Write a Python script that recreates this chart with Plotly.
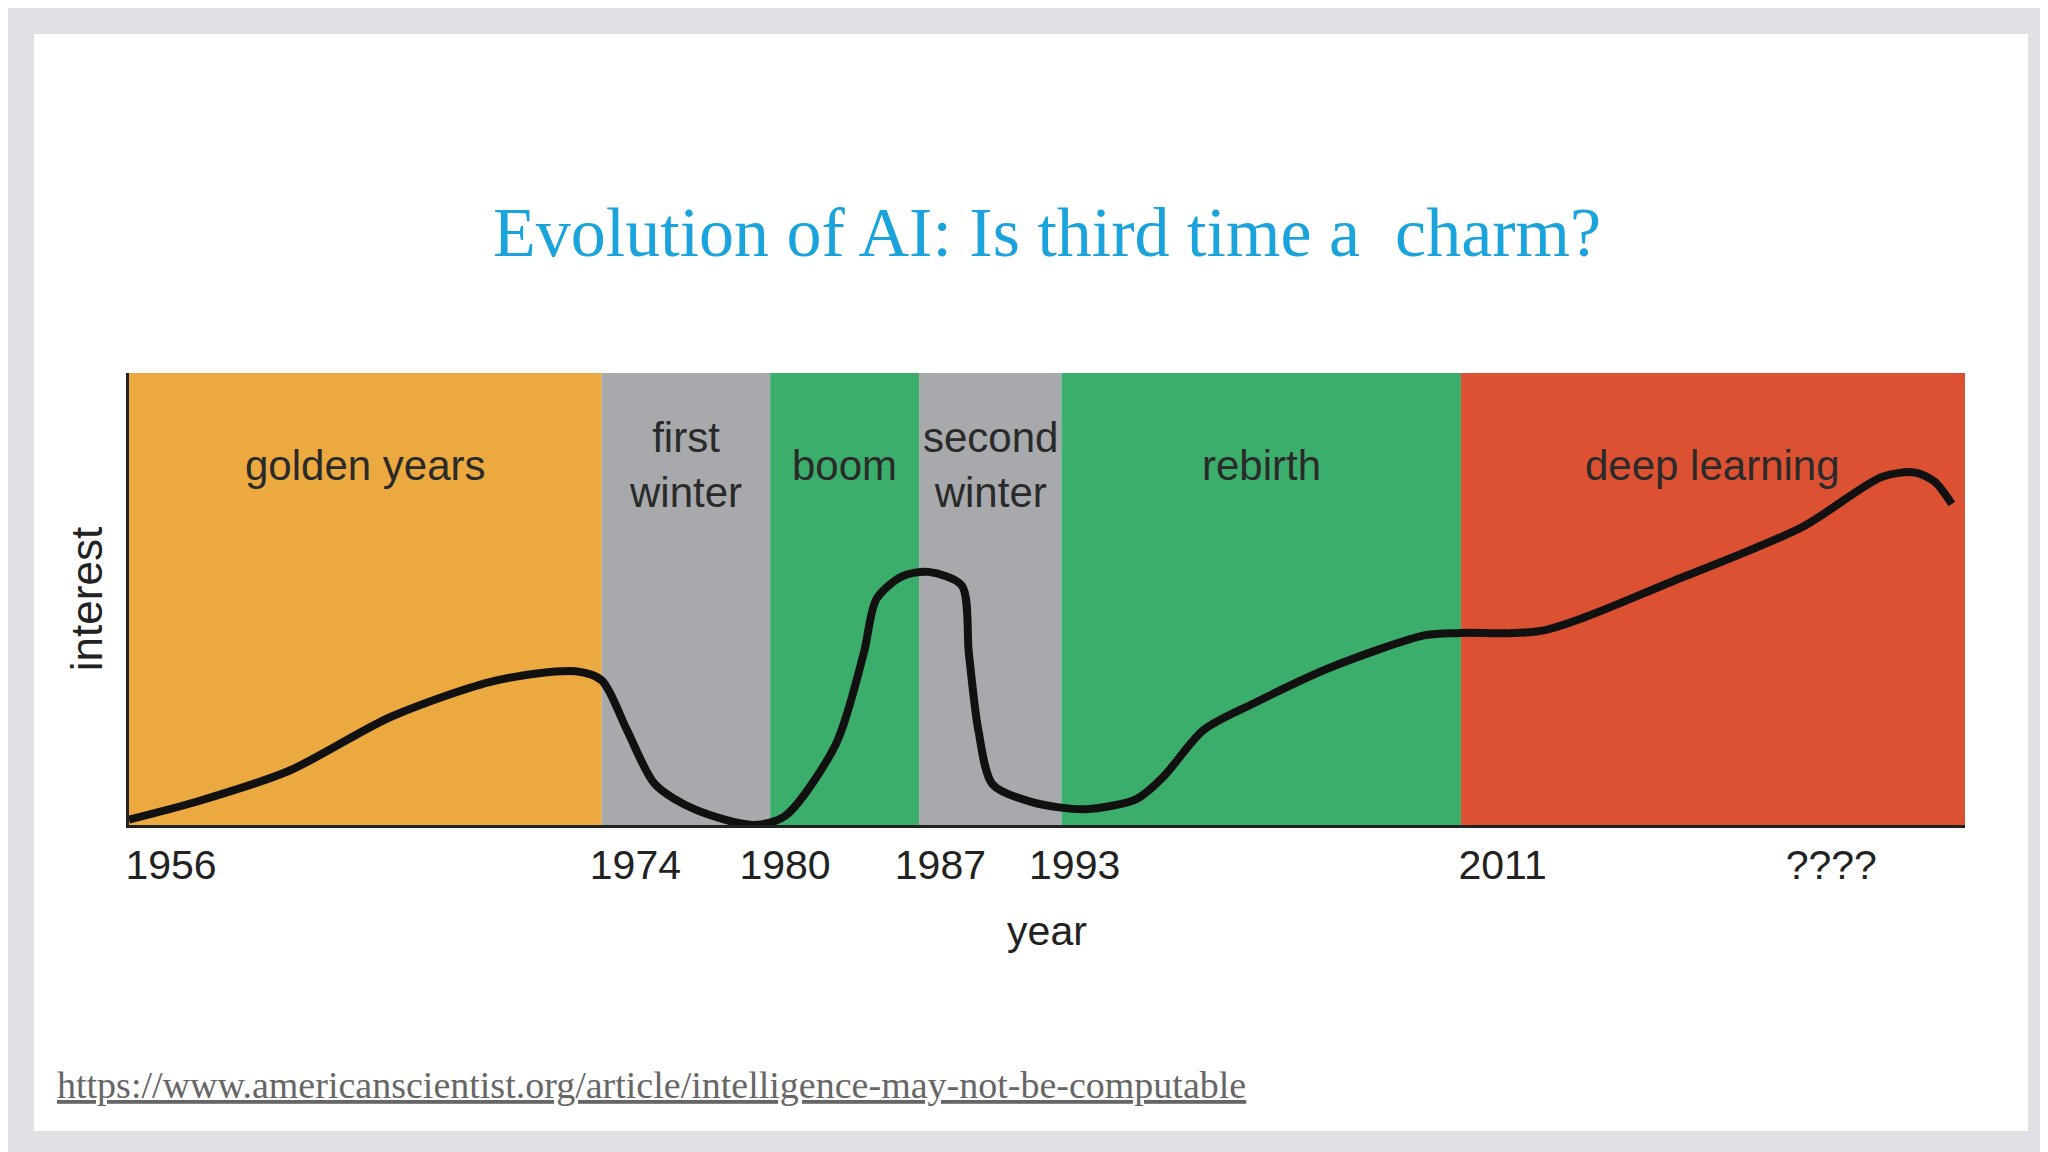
import numpy as np
import plotly.graph_objects as go

# era boundaries (years) and their positions on the non-uniform timeline
bound_years = [1956, 1974, 1980, 1987, 1993, 2011, 2034]
bound_pos = [0, 362, 491, 605, 714, 1020, 1406]

eras = ["golden years", "first<br>winter", "boom", "second<br>winter", "rebirth", "deep learning"]
era_colors = ["#EBA93F", "#A7A9AC", "#3CAE6B", "#A7A9AC", "#3CAE6B", "#DC5131"]

curve_years = [1956, 1958.6, 1962.1, 1966.0, 1970.0, 1973.0, 1974, 1974.9, 1975.9, 1977.3, 1979.4,
               1980.7, 1983.1, 1984.4, 1985.0, 1986.2, 1987.4, 1988.8, 1989.1, 1989.5, 1990.1,
               1991.8, 1994.1, 1996.4, 1997.6, 1999.4, 2001.7, 2005.2, 2009.4, 2011, 2014.7,
               2020.7, 2026.6, 2030.2, 2031.7, 2032.6, 2033.4]
interest = [0.012, 0.052, 0.12, 0.24, 0.32, 0.34, 0.32, 0.21, 0.09, 0.035, 0.0,
            0.02, 0.18, 0.38, 0.50, 0.55, 0.56, 0.53, 0.38, 0.21, 0.09,
            0.05, 0.035, 0.058, 0.107, 0.21, 0.27, 0.35, 0.42, 0.425, 0.43,
            0.54, 0.66, 0.77, 0.78, 0.76, 0.71]

tick_years = [1957.6, 1975.2, 1980.7, 1987.9, 1993.6, 2012.9, 2027.9]
tick_labels = ["1956", "1974", "1980", "1987", "1993", "2011", "????"]


def pos(y):
    return np.interp(y, bound_years, bound_pos)


fig = go.Figure()
fig.add_trace(go.Scatter(x=pos(curve_years), y=interest, mode="lines",
                         line=dict(color="#111", width=8, shape="spline", smoothing=0.8),
                         hoverinfo="skip", showlegend=False))

shapes = [dict(type="rect", xref="paper", yref="paper", x0=-0.0517, x1=1.0343, y0=-0.677, y1=1.75,
               fillcolor="white", line=dict(width=0), layer="below")]
annotations = []
for i, (name, col) in enumerate(zip(eras, era_colors)):
    x0, x1 = pos(bound_years[i]), pos(bound_years[i + 1])
    shapes.append(dict(type="rect", xref="x", yref="y", x0=x0, x1=x1, y0=0, y1=1,
                       fillcolor=col, line=dict(width=0), layer="below"))
    annotations.append(dict(x=(x0 + x1) / 2, y=0.796, xref="x", yref="y", text=name, showarrow=False,
                            font=dict(family="Liberation Sans", size=42, color="#2a2a2a")))

annotations += [
    dict(x=0.5, y=1.40, xref="paper", yref="paper", text="Evolution of AI: Is third time a  charm?",
         showarrow=False, font=dict(family="Liberation Serif", size=70, color="#1BA3DC")),
    dict(x=-0.0403, y=-0.626, xref="paper", yref="paper", xanchor="left",
         text="<u>https://www.americanscientist.org/article/intelligence-may-not-be-computable</u>",
         showarrow=False, font=dict(family="Liberation Serif", size=38, color="#666")),
]

fig.update_layout(
    width=2048, height=1152, margin=dict(l=121, r=91, t=365, b=335),
    paper_bgcolor="#E1E0E5", plot_bgcolor="white",
    shapes=shapes, annotations=annotations,
    xaxis=dict(range=[0, 1406], tickvals=pos(tick_years), ticktext=tick_labels, showgrid=False,
               zeroline=False, showline=True, linecolor="#222", linewidth=3, ticks="",
               ticklabelstandoff=2, tickfont=dict(family="Liberation Sans", size=41, color="#222"),
               title=dict(text="year", font=dict(family="Liberation Sans", size=41, color="#222"), standoff=30)),
    yaxis=dict(range=[0, 1], showticklabels=False, showgrid=False, zeroline=False, showline=True,
               linecolor="#222", linewidth=3, ticks="",
               title=dict(text="interest", font=dict(family="Liberation Sans", size=44, color="#222"), standoff=10)),
)
fig.write_html("out.html")
